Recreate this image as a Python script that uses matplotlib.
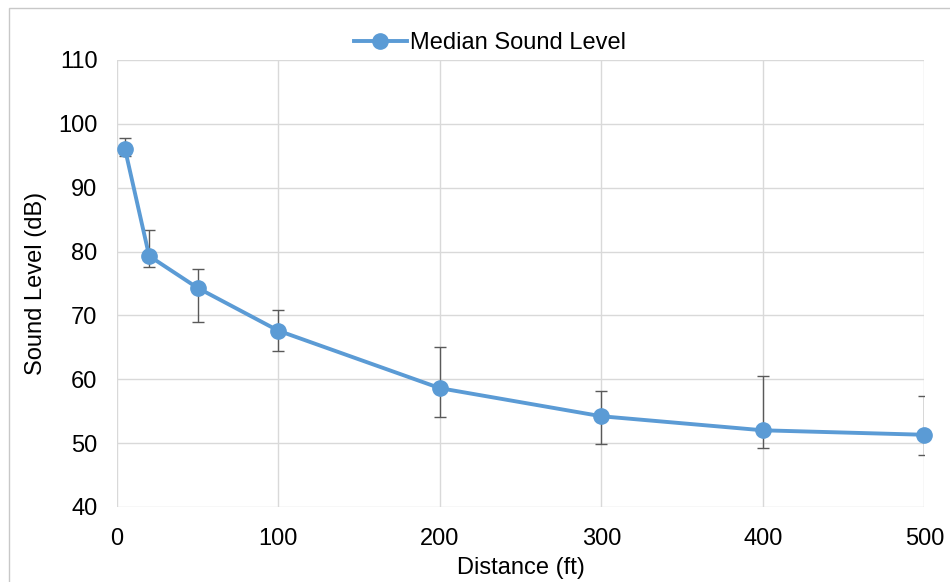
import matplotlib.pyplot as plt
from matplotlib.patches import Rectangle

plt.rcParams['font.family'] = ['Liberation Sans', 'DejaVu Sans']

# median sound level vs distance, with low/high range for the error bars
distance_ft = [5, 20, 50, 100, 200, 300, 400, 500]
median_db = [96.1, 79.3, 74.3, 67.6, 58.6, 54.2, 52.0, 51.3]
low_db = [95.0, 77.5, 69.0, 64.4, 54.1, 49.9, 49.3, 48.1]
high_db = [97.7, 83.3, 77.2, 70.8, 65.0, 58.1, 60.5, 57.3]

err_lo = [m - lo for m, lo in zip(median_db, low_db)]
err_hi = [hi - m for m, hi in zip(median_db, high_db)]

blue = '#5b9bd5'
grid = '#d9d9d9'
fs = 17

fig = plt.figure(figsize=(9.5, 5.82), dpi=100)
ax = fig.add_axes([0.123, 0.129, 0.850, 0.768])

# thin chart-area frame along the top and left edges
fig.patches.append(Rectangle((9 / 950, -0.1), 1.2, 1 - 8 / 582 + 0.1,
                             transform=fig.transFigure, fill=False,
                             edgecolor='#c8c8c8', linewidth=1.0))

ax.errorbar(distance_ft, median_db, yerr=[err_lo, err_hi], fmt='none',
            ecolor='#595959', elinewidth=1.0, capsize=4.5, capthick=1.0, zorder=2)
ax.plot(distance_ft, median_db, color=blue, linewidth=2.8, marker='o',
        markersize=11, label='Median Sound Level', zorder=3, clip_on=False)

ax.set_xlim(0, 500)
ax.set_ylim(40, 110)
ax.set_xticks(range(0, 501, 100))
ax.set_yticks(range(40, 111, 10))
ax.grid(True, color=grid, linewidth=1.0)
ax.set_axisbelow(True)
for s in ax.spines.values():
    s.set_visible(False)
ax.tick_params(axis='y', length=0, labelsize=fs, pad=14, colors='black')
ax.tick_params(axis='x', length=0, labelsize=fs, pad=15, colors='black')

ax.set_xlabel('Distance (ft)', fontsize=fs, labelpad=5)
ax.set_ylabel('Sound Level (dB)', fontsize=fs, labelpad=8)

ax.legend(loc='center', bbox_to_anchor=(490 / 950, 1 - 43 / 582),
          bbox_transform=fig.transFigure, frameon=False, fontsize=fs,
          handlelength=2.25, handletextpad=0.13, borderpad=0, borderaxespad=0)

fig.savefig('out.png', dpi=100)
